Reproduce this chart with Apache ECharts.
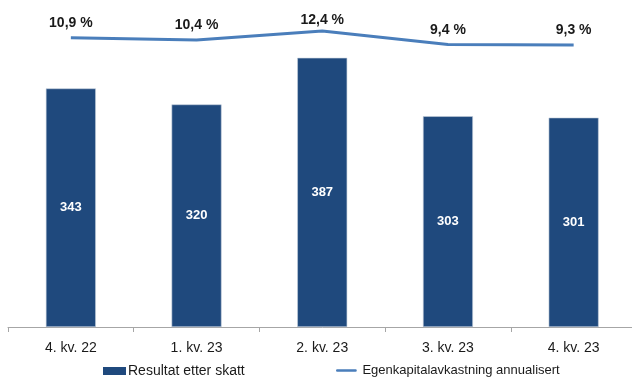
<!DOCTYPE html>
<html>
<head>
<meta charset="utf-8">
<script src="https://cdn.jsdelivr.net/npm/echarts@6/dist/echarts.min.js"></script>
<style>
  html, body { margin: 0; padding: 0; background: #fff; overflow: hidden; }
  #chart { width: 640px; height: 379px; }
</style>
</head>
<body>
<div id="chart"></div>
<script>
// Quarterly result after tax (bars) and annualised return on equity (line)
const quarters = ['4. kv. 22', '1. kv. 23', '2. kv. 23', '3. kv. 23', '4. kv. 23'];
const resultAfterTax = [343, 320, 387, 303, 301];
const returnOnEquity = [10.9, 10.4, 12.4, 9.4, 9.3];

const FONT = '"Liberation Sans", Arial, sans-serif';
const BAR_COLOR = '#1f497d';
const LINE_COLOR = '#4a7ebb';
// The peak label sits a little closer to the line
const labelDistances = [7, 7, 3, 7, 7];

const chart = echarts.init(document.getElementById('chart'), null, { renderer: 'canvas' });

chart.setOption({
  animation: false,
  textStyle: { fontFamily: FONT },
  grid: { left: 8, right: 3.5, top: 14, height: 313, containLabel: false },
  legend: [
    {
      left: 103, top: 364,
      itemWidth: 23, itemHeight: 8, itemGap: 0, padding: 0,
      itemStyle: { borderWidth: 0 },
      textStyle: { fontFamily: FONT, fontSize: 14, color: '#1a1a1a', padding: [0, 0, 0, -3] },
      data: [{ name: 'Resultat etter skatt', icon: 'rect' }]
    },
    {
      left: 336, top: 364,
      itemWidth: 26, itemHeight: 8, itemGap: 0, padding: 0,
      textStyle: { fontFamily: FONT, fontSize: 13, color: '#1a1a1a', padding: [1, 0, 0, -2] },
      data: [{
        name: 'Egenkapitalavkastning annualisert',
        icon: 'path://M1.5,3.5 L24.5,3.5 A1.5,1.5 0 0 1 24.5,6.5 L1.5,6.5 A1.5,1.5 0 0 1 1.5,3.5 Z M0,0 L0,0.01 M26,10 L26,9.99',
        itemStyle: { color: LINE_COLOR, borderWidth: 0 }
      }]
    }
  ],
  xAxis: {
    type: 'category',
    data: quarters,
    boundaryGap: true,
    axisLine: { lineStyle: { color: '#a6a6a6', width: 1 } },
    axisTick: { show: true, length: 5, alignWithLabel: false, lineStyle: { color: '#a6a6a6' } },
    axisLabel: { fontFamily: FONT, fontSize: 14, color: '#1a1a1a', margin: 14 }
  },
  yAxis: [
    { type: 'value', min: 0, max: 450, show: false },
    { type: 'value', min: -53.1, max: 16.15, show: false }
  ],
  series: [
    {
      name: 'Resultat etter skatt',
      type: 'bar',
      data: resultAfterTax,
      barWidth: 50,
      itemStyle: { color: BAR_COLOR, borderColor: '#c5cfdc', borderWidth: 0.6 },
      label: {
        show: true, position: 'inside',
        color: '#ffffff', fontWeight: 'bold', fontSize: 13, fontFamily: FONT
      }
    },
    {
      name: 'Egenkapitalavkastning annualisert',
      type: 'line',
      yAxisIndex: 1,
      data: returnOnEquity.map((v, i) => ({ value: v, label: { distance: labelDistances[i] } })),
      symbol: 'circle',
      symbolSize: 1,
      showSymbol: true,
      lineStyle: { color: LINE_COLOR, width: 3 },
      itemStyle: { color: 'rgba(0,0,0,0)', borderWidth: 0 },
      emphasis: { disabled: true },
      label: {
        show: true, position: 'top',
        color: '#1a1a1a', fontWeight: 'bold', fontSize: 14, fontFamily: FONT,
        formatter: p => p.value.toFixed(1).replace('.', ',') + ' %'
      }
    }
  ]
});
</script>
</body>
</html>
